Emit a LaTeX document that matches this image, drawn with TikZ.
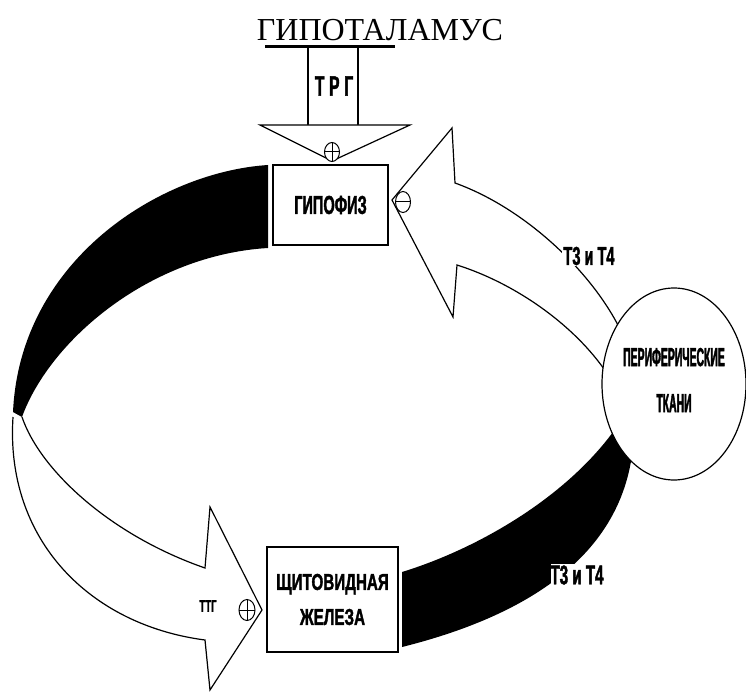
\documentclass[tikz,border=0pt]{standalone}
\usepackage{fontspec}
\setmainfont{Liberation Serif}
\newfontfamily\uzkij{Liberation Sans}[FakeStretch=0.56, FakeBold=1.5]
\newfontfamily\shirkij{Liberation Sans}[FakeStretch=0.66, FakeBold=1.5]
\newfontfamily\ochuzkij{Liberation Sans}[FakeStretch=0.40, FakeBold=1.5]
\usetikzlibrary{shapes.geometric}

\begin{document}
\begin{tikzpicture}[
  x=1pt, y=-1pt, line width=1.2pt,
  every node/.style={inner sep=1pt, font=\uzkij\bfseries}
]
\tikzset{
  ramka/.style={draw, rectangle, fill=white},
  znak/.style={draw, ellipse, fill=white, inner sep=0pt, minimum width=15pt, minimum height=19pt, line width=1pt},
  znakplus/.style={znak, path picture={\draw[line width=1pt] (path picture bounding box.north) -- (path picture bounding box.south) (path picture bounding box.west) -- (path picture bounding box.east);}},
  znakminus/.style={znak, path picture={\draw[line width=1pt] (path picture bounding box.west) -- (path picture bounding box.east);}},
  lenta/.style={fill=black},
  strelka/.style={draw=black, fill=white, line join=miter}
}
\useasboundingbox (0,0) rectangle (746,692);

\node[font=\rmfamily\fontsize{32}{32}\selectfont] (gipot) at (380,30) {ГИПОТАЛАМУС};
\draw[line width=3pt] (265,47) -- (395,47);
\draw (308,47) -- (308,125) (358,47) -- (358,125);
\node[font=\uzkij\bfseries\fontsize{28}{28}\selectfont] (trg) at (334,86) {Т\,Р\,Г};
\draw[strelka] (260,125) -- (410,125) -- (332,161) -- cycle;

\node[ramka, minimum width=115pt, minimum height=80pt, font=\uzkij\bfseries\fontsize{26}{26}\selectfont] (gip) at (330.5,205) {ГИПОФИЗ};
\node[ramka, minimum width=131pt, minimum height=105pt, align=center, font=\shirkij\bfseries\fontsize{23}{35}\selectfont] (shch) at (332.5,599.5) {ЩИТОВИДНАЯ\\ЖЕЛЕЗА};

% lenty i strelki
\fill[lenta] (268,165) .. controls (160,172) and (20,260) .. (13,412) -- (22,417) .. controls (50,340) and (150,255) .. (268,248) -- cycle;
\draw[strelka] (22,417) .. controls (40,470) and (110,535) .. (205,568) -- (210,507) -- (262,610) -- (210,690) -- (205,640) .. controls (90,625) and (5,540) .. (13,417);
\fill[lenta] (402,572) .. controls (480,548) and (570,495) .. (618,425) -- (632,455) .. controls (618,555) and (530,615) .. (402,647) -- cycle;
\draw[strelka] (392,200) -- (452,128) -- (455,183) .. controls (530,210) and (600,280) .. (625,340) -- (610,378) .. controls (580,330) and (520,285) .. (457,265) -- (453,317) -- cycle;

\node[draw, ellipse, fill=white, minimum width=144pt, minimum height=192pt] (tkani) at (674,384) {};
\node[align=center, font=\ochuzkij\bfseries\fontsize{26}{46}\selectfont] (tkanitxt) at (674,380) {ПЕРИФЕРИЧЕСКИЕ\\ТКАНИ};

\node[fill=white, font=\uzkij\bfseries\fontsize{26}{26}\selectfont] (t34a) at (589,256) {Т3 и Т4};
\node[fill=white, inner xsep=0pt, font=\uzkij\bfseries\fontsize{27}{27}\selectfont] (t34b) at (577,575) {Т3 и Т4};
\node[font=\uzkij\bfseries\fontsize{17}{17}\selectfont] (ttg) at (208,606) {ТТГ};

\node[znakplus] (p1) at (332,152) {};
\node[znakminus, minimum height=21pt] (m1) at (403,202) {};
\node[znakplus, minimum width=16pt, minimum height=21pt] (p2) at (247,610) {};
\end{tikzpicture}
\end{document}
